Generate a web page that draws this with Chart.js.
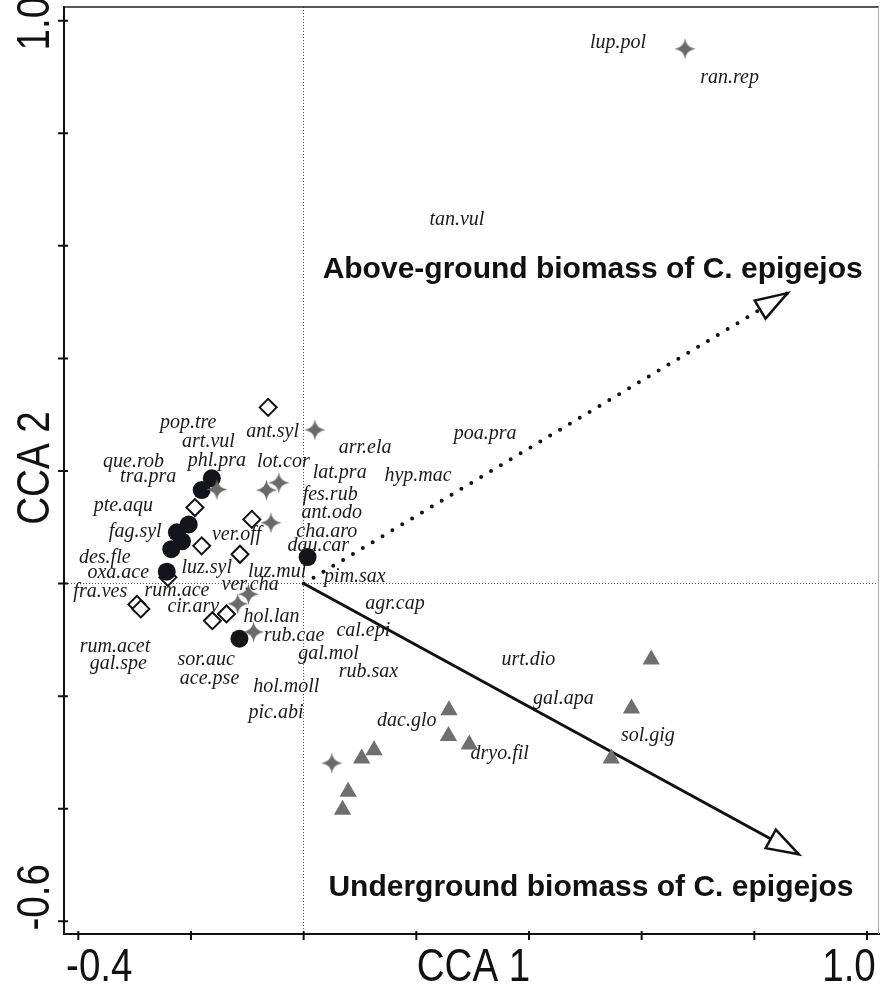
<!DOCTYPE html>
<html>
<head>
<meta charset="utf-8">
<script src="https://cdn.jsdelivr.net/npm/chart.js@4.4.1/dist/chart.umd.min.js"></script>
<style>
  html, body { margin: 0; background: #fff; }
  #wrap { width: 880px; height: 989px; position: relative; }
</style>
</head>
<body>
<div id="wrap"><canvas id="cca"></canvas></div>
<script>
// CCA biplot: sites (four groups of symbols), species names and two
// biomass arrows.

// axis ranges and ticks
const xRange = [-0.4254, 1.0213];
const yRange = [-0.6226, 1.0243];
const xTicks = [-0.4, -0.2, 0, 0.2, 0.4, 0.6, 0.8, 1.0];
const yTicks = [-0.6, -0.4, -0.2, 0, 0.2, 0.4, 0.6, 0.8, 1.0];
const xTickLabels = ["-0.4", "1.0"];
const xTickLabelAt = [-0.4, 1.0];
const yTickLabels = ["1.0", "-0.6"];
const yTickLabelAt = [1.0, -0.6];

// site scores, one array per symbol
const blackCircles = [
  [-0.163, 0.187], [-0.181, 0.166], [-0.204, 0.105], [-0.225, 0.091],
  [-0.216, 0.075], [-0.235, 0.061], [-0.243, 0.021], [0.007, 0.047],
  [-0.114, -0.098]
];
const openDiamonds = [
  [-0.063, 0.313], [-0.193, 0.135], [-0.181, 0.067], [-0.092, 0.114],
  [-0.113, 0.052], [-0.296, -0.037], [-0.289, -0.045], [-0.162, -0.066],
  [-0.137, -0.054], [-0.241, 0.011]
];
const greyStars = [
  [0.677, 0.950], [0.020, 0.273], [-0.154, 0.167], [-0.066, 0.166],
  [-0.044, 0.179], [-0.058, 0.108], [-0.098, -0.019], [-0.117, -0.036],
  [-0.089, -0.086], [0.050, -0.319]
];
const greyTriangles = [
  [0.617, -0.135], [0.582, -0.222], [0.546, -0.311], [0.258, -0.225],
  [0.257, -0.271], [0.294, -0.286], [0.125, -0.296], [0.103, -0.311],
  [0.079, -0.370], [0.069, -0.402]
];

// species names (label centres)
const speciesNames = [
  "lup.pol", "ran.rep", "tan.vul", "poa.pra", "arr.ela", "hyp.mac", "lat.pra",
  "fes.rub", "ant.odo", "cha.aro", "dau.car", "pim.sax", "luz.mul", "ant.syl",
  "lot.cor", "pop.tre", "art.vul", "phl.pra", "que.rob", "tra.pra", "pte.aqu",
  "fag.syl", "ver.off", "des.fle", "oxa.ace", "luz.syl", "fra.ves", "rum.ace",
  "ver.cha", "cir.arv", "hol.lan", "rub.cae", "rum.acet", "gal.spe", "sor.auc",
  "ace.pse", "hol.moll", "pic.abi", "gal.mol", "agr.cap", "cal.epi", "rub.sax",
  "urt.dio", "gal.apa", "sol.gig", "dac.glo", "dryo.fil"
];
const speciesX = [
  0.558, 0.756, 0.272, 0.322, 0.109, 0.203, 0.064,
  0.047, 0.050, 0.041, 0.026, 0.091, -0.047, -0.055,
  -0.036, -0.205, -0.169, -0.154, -0.302, -0.276, -0.320,
  -0.299, -0.119, -0.353, -0.329, -0.172, -0.361, -0.225,
  -0.095, -0.196, -0.057, -0.017, -0.335, -0.329, -0.173,
  -0.167, -0.031, -0.049, 0.044, 0.162, 0.106, 0.115,
  0.399, 0.461, 0.611, 0.183, 0.348
];
const speciesY = [
  0.961, 0.898, 0.646, 0.267, 0.242, 0.191, 0.196,
  0.157, 0.125, 0.092, 0.068, 0.012, 0.021, 0.270,
  0.216, 0.285, 0.252, 0.219, 0.216, 0.190, 0.139,
  0.092, 0.086, 0.045, 0.020, 0.028, -0.015, -0.013,
  -0.003, -0.041, -0.059, -0.093, -0.112, -0.142, -0.135,
  -0.169, -0.184, -0.230, -0.124, -0.035, -0.083, -0.157,
  -0.136, -0.204, -0.271, -0.243, -0.302
];

// environmental arrows (tips) and their captions
const arrowNames = ["Above-ground biomass of C. epigejos", "Underground biomass of C. epigejos"];
const arrowX = [0.859, 0.879];
const arrowY = [0.516, -0.481];
const arrowLabelX = [0.513, 0.510];
const arrowLabelY = [0.557, -0.540];

const toPts = (arr) => arr.map((p) => ({ x: p[0], y: p[1] }));

// four-pointed grey star used as a point style
function makeStar(r, color) {
  const c = document.createElement("canvas");
  c.width = c.height = 2 * r + 2;
  const g = c.getContext("2d");
  const cx = r + 1, cy = r + 1;
  const tips = [[0, -r], [r, 0], [0, r], [-r, 0]];
  const k = 1.8 / Math.SQRT2;
  g.fillStyle = color;
  g.beginPath();
  g.moveTo(cx + tips[0][0], cy + tips[0][1]);
  for (let i = 1; i <= 4; i++) {
    const p = tips[i - 1], t = tips[i % 4];
    const dx = Math.sign(p[0] + t[0]) * k, dy = Math.sign(p[1] + t[1]) * k;
    g.quadraticCurveTo(cx + dx, cy + dy, cx + t[0], cy + t[1]);
  }
  g.closePath();
  g.fill();
  return c;
}

function narrowText(ctx, text, x, y, rot, size) {
  ctx.save();
  ctx.translate(x, y);
  ctx.rotate(rot);
  ctx.scale(0.82, 1);
  ctx.font = size + 'px "Liberation Sans", Arial, sans-serif';
  ctx.fillStyle = "#111";
  ctx.textAlign = "center";
  ctx.textBaseline = "alphabetic";
  ctx.fillText(text, 0, 0);
  ctx.restore();
}

function arrowHead(ctx, x0, y0, x1, y1, len, half) {
  const a = Math.atan2(y1 - y0, x1 - x0);
  const bx = x1 - len * Math.cos(a), by = y1 - len * Math.sin(a);
  ctx.beginPath();
  ctx.moveTo(x1, y1);
  ctx.lineTo(bx + half * Math.sin(a), by - half * Math.cos(a));
  ctx.lineTo(bx - half * Math.sin(a), by + half * Math.cos(a));
  ctx.closePath();
  ctx.fillStyle = "#fff";
  ctx.fill();
  ctx.lineWidth = 2.5;
  ctx.strokeStyle = "#111";
  ctx.lineJoin = "miter";
  ctx.stroke();
}

const decor = {
  id: "decor",
  beforeDatasetsDraw(chart) {
    const { ctx, scales: { x, y } } = chart;
    ctx.save();
    ctx.fillStyle = "#1a1a1a";
    ctx.font = 'italic 20px "Liberation Serif", "Times New Roman", serif';
    ctx.textAlign = "center";
    ctx.textBaseline = "middle";
    speciesNames.forEach((n, i) => {
      ctx.fillText(n, x.getPixelForValue(speciesX[i]), y.getPixelForValue(speciesY[i]));
    });
    ctx.fillStyle = "#111";
    ctx.font = 'bold 30px "Liberation Sans", Arial, sans-serif';
    arrowNames.forEach((n, i) => {
      ctx.fillText(n, x.getPixelForValue(arrowLabelX[i]), y.getPixelForValue(arrowLabelY[i]));
    });
    ctx.restore();
  },
  afterDatasetsDraw(chart) {
    const ctx = chart.ctx;
    ctx.save();
    [4, 5].forEach((di) => {
      const pts = chart.getDatasetMeta(di).data;
      arrowHead(ctx, pts[0].x, pts[0].y, pts[1].x, pts[1].y, 32, 10.5);
    });
    ctx.restore();
  },
  afterDraw(chart) {
    const { ctx, chartArea: a, scales: { x, y } } = chart;
    ctx.save();
    // top and right frame lines
    ctx.strokeStyle = "#222";
    ctx.lineWidth = 1.5;
    ctx.beginPath();
    ctx.moveTo(a.left, a.top);
    ctx.lineTo(a.right, a.top);
    ctx.stroke();
    ctx.strokeStyle = "#aaa";
    ctx.lineWidth = 1;
    ctx.beginPath();
    ctx.moveTo(a.right - 0.5, a.top);
    ctx.lineTo(a.right - 0.5, a.bottom);
    ctx.stroke();
    // tick marks crossing the axes
    ctx.strokeStyle = "#111";
    ctx.lineWidth = 2;
    ctx.beginPath();
    xTicks.forEach((v) => {
      const px = x.getPixelForValue(v);
      ctx.moveTo(px, a.bottom - 3);
      ctx.lineTo(px, a.bottom + 6);
    });
    yTicks.forEach((v) => {
      const py = y.getPixelForValue(v);
      ctx.moveTo(a.left - 6, py);
      ctx.lineTo(a.left + 4, py);
    });
    ctx.stroke();
    // tick labels, shifted inward as printed
    const xShift = [21, -18];
    xTickLabels.forEach((t, i) => {
      narrowText(ctx, t, x.getPixelForValue(xTickLabelAt[i]) + xShift[i], 981, 0, 47);
    });
    const yShift = [3, -24];
    yTickLabels.forEach((t, i) => {
      narrowText(ctx, t, 49, y.getPixelForValue(yTickLabelAt[i]) + yShift[i], -Math.PI / 2, 47);
    });
    narrowText(ctx, "CCA 1", (a.left + a.right) / 2 + 2, 981, 0, 47);
    narrowText(ctx, "CCA 2", 49, 468, -Math.PI / 2, 47);
    ctx.restore();
  }
};

const zeroGrid = (c) => (c.tick && c.tick.value === 0 ? "#555" : "rgba(0,0,0,0)");
const star = makeStar(10.5, "#6a6a6a");

new Chart(document.getElementById("cca"), {
  type: "scatter",
  data: {
    datasets: [
      { label: "stars", data: toPts(greyStars), pointStyle: star, pointRadius: 10 },
      { label: "triangles", data: toPts(greyTriangles), pointStyle: "triangle", pointRadius: 10,
        backgroundColor: "#6f6f6f", borderColor: "#6f6f6f", borderWidth: 0 },
      { label: "circles", data: toPts(blackCircles), pointStyle: "circle", pointRadius: 9,
        backgroundColor: "#14141c", borderColor: "#14141c", borderWidth: 0 },
      { label: "diamonds", data: toPts(openDiamonds), pointStyle: "rectRot", pointRadius: 8.5,
        backgroundColor: "#fff", borderColor: "#111", borderWidth: 2 },
      { label: arrowNames[0], data: [{ x: 0, y: 0 }, { x: arrowX[0], y: arrowY[0] }],
        showLine: true, pointRadius: 0, borderColor: "#111", borderWidth: 4,
        borderDash: [0, 11.5], borderCapStyle: "round" },
      { label: arrowNames[1], data: [{ x: 0, y: 0 }, { x: arrowX[1], y: arrowY[1] }],
        showLine: true, pointRadius: 0, borderColor: "#111", borderWidth: 3 }
    ]
  },
  options: {
    responsive: true,
    maintainAspectRatio: false,
    animation: false,
    events: [],
    layout: { autoPadding: false, padding: { left: 64, right: 1, top: 7, bottom: 55 } },
    plugins: { legend: { display: false }, tooltip: { enabled: false } },
    scales: {
      x: {
        type: "linear",
        min: xRange[0],
        max: xRange[1],
        afterBuildTicks: (s) => { s.ticks = xTicks.map((v) => ({ value: v })); },
        ticks: { display: false },
        grid: { color: zeroGrid, lineWidth: 1, drawTicks: false },
        border: { display: true, color: "#111", width: 2, dash: [1, 2] }
      },
      y: {
        type: "linear",
        min: yRange[0],
        max: yRange[1],
        afterBuildTicks: (s) => { s.ticks = yTicks.map((v) => ({ value: v })); },
        ticks: { display: false },
        grid: { color: zeroGrid, lineWidth: 1, drawTicks: false },
        border: { display: true, color: "#111", width: 2, dash: [1, 2] }
      }
    }
  },
  plugins: [decor]
});
</script>
</body>
</html>
